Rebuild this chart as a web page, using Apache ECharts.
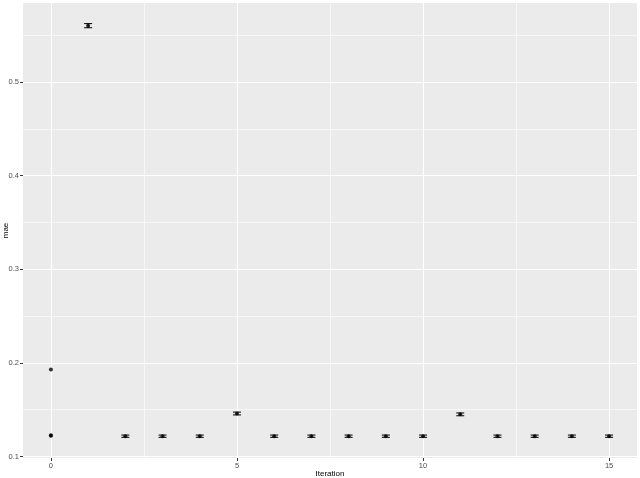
<!DOCTYPE html>
<html>
<head>
<meta charset="UTF-8">
<title>mae by iteration</title>
<script src="https://cdn.jsdelivr.net/npm/echarts@6.0.0/dist/echarts.min.js"></script>
<style>
  html, body { margin: 0; padding: 0; background: #fff; }
  #chart { width: 640px; height: 478px; }
</style>
</head>
<body>
<div id="chart"></div>
<script>
// iteration 0: single runs, plotted as plain points
const baseX = [0, 0, 0];
const baseMae = [0.193, 0.1221, 0.1228];

// iterations 1..15: mean mae with error bar
const iterations = [1, 2, 3, 4, 5, 6, 7, 8, 9, 10, 11, 12, 13, 14, 15];
const maeMean = [0.5601, 0.1217, 0.1217, 0.1217, 0.1459, 0.1217, 0.1217, 0.1217, 0.1217, 0.1217, 0.1450, 0.1217, 0.1217, 0.1217, 0.1217];
const maeErr = [0.0022, 0.0012, 0.0012, 0.0012, 0.0015, 0.0012, 0.0012, 0.0012, 0.0012, 0.0012, 0.0015, 0.0012, 0.0012, 0.0012, 0.0012];

const xTicks = [0, 5, 10, 15];
const xMinor = [2.5, 7.5, 12.5];
const yTicks = [0.1, 0.2, 0.3, 0.4, 0.5];
const yMinor = [0.15, 0.25, 0.35, 0.45, 0.55];

const chart = echarts.init(document.getElementById('chart'));

const font = 'Liberation Sans, Arial, sans-serif';
const tickStyle = { color: '#333', width: 1 };
const labelStyle = { color: '#4D4D4D', fontSize: 7.5, fontFamily: font };

const minorLines = [
  ...xMinor.map(v => ({ xAxis: v })),
  ...yMinor.map(v => ({ yAxis: v }))
];

chart.setOption({
  animation: false,
  backgroundColor: '#fff',
  grid: {
    left: 23, right: 3, top: 3, bottom: 20,
    outerBoundsMode: 'none',
    containLabel: false,
    show: true, backgroundColor: '#EBEBEB', borderWidth: 0
  },
  xAxis: {
    type: 'value',
    min: -0.75, max: 15.75,
    name: 'Iteration',
    nameLocation: 'middle',
    nameGap: 12,
    nameMoveOverlap: false,
    nameTextStyle: { color: '#000', fontSize: 8, fontFamily: font },
    axisLine: { show: false, onZero: false },
    axisTick: { show: true, length: 3, lineStyle: tickStyle, customValues: xTicks },
    axisLabel: { ...labelStyle, margin: 4, customValues: xTicks, formatter: v => String(v) },
    splitLine: { show: true, lineStyle: { color: '#fff', width: 1.1 } }
  },
  yAxis: {
    type: 'value',
    min: 0.0984, max: 0.5843,
    name: 'mae',
    nameLocation: 'middle',
    nameGap: 13,
    nameMoveOverlap: false,
    nameTextStyle: { color: '#000', fontSize: 8, fontFamily: font },
    axisLine: { show: false, onZero: false },
    axisTick: { show: true, length: 3, lineStyle: tickStyle, customValues: yTicks },
    axisLabel: { ...labelStyle, margin: 4, customValues: yTicks, formatter: v => String(+v.toFixed(1)) },
    splitLine: { show: true, lineStyle: { color: '#fff', width: 1.1 } }
  },
  series: [
    {
      // minor grid lines
      type: 'line',
      data: [],
      silent: true,
      markLine: {
        silent: true,
        symbol: 'none',
        label: { show: false },
        lineStyle: { color: '#fff', width: 0.6, type: 'solid' },
        data: minorLines
      }
    },
    {
      type: 'custom',
      data: iterations.map((x, i) => [x, maeMean[i], maeErr[i]]),
      renderItem: function (params, api) {
        const x = api.value(0), m = api.value(1), e = api.value(2);
        const top = api.coord([x, m + e]);
        const bot = api.coord([x, m - e]);
        const hw = 4;
        const st = { stroke: '#000', lineWidth: 1, fill: null };
        return {
          type: 'group',
          children: [
            { type: 'line', shape: { x1: top[0], y1: top[1], x2: bot[0], y2: bot[1] }, style: st },
            { type: 'line', shape: { x1: top[0] - hw, y1: top[1], x2: top[0] + hw, y2: top[1] }, style: st },
            { type: 'line', shape: { x1: bot[0] - hw, y1: bot[1], x2: bot[0] + hw, y2: bot[1] }, style: st }
          ]
        };
      },
      z: 3
    },
    {
      type: 'scatter',
      data: iterations.map((x, i) => [x, maeMean[i]]),
      symbolSize: 4,
      itemStyle: { color: '#000' },
      z: 4
    },
    {
      type: 'scatter',
      data: baseX.map((x, i) => [x, baseMae[i]]),
      symbolSize: 4,
      itemStyle: { color: '#000' },
      z: 4
    }
  ]
});
</script>
</body>
</html>
